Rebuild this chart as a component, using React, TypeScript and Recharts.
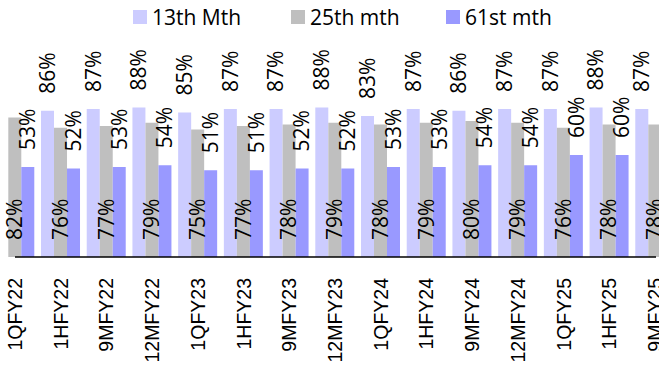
import React from 'react';
import { BarChart, Bar, XAxis, YAxis, Legend, LabelList } from 'recharts';

const categories = ['1QFY22', '1HFY22', '9MFY22', '12MFY22', '1QFY23', '1HFY23', '9MFY23', '12MFY23', '1QFY24', '1HFY24', '9MFY24', '12MFY24', '1QFY25', '1HFY25', '9MFY25'];
// values cut off at the picture edges are left empty
const month13 = [null, 86, 87, 88, 85, 87, 87, 88, 83, 87, 86, 87, 87, 88, 87];
const month25 = [82, 76, 77, 79, 75, 77, 78, 79, 78, 79, 80, 79, 76, 78, 78];
const month61 = [53, 52, 53, 54, 51, 51, 52, 52, 53, 53, 54, 54, 60, 60, null];

const COLORS = { m13: '#CCCCFF', m25: '#BFBFBF', m61: '#9999FF' };
const LABEL_FONT = '"Open Sans", "Liberation Sans", sans-serif';

const data = categories.map((c, i) => ({
    cat: c,
    m13: month13[i],
    m25: month25[i],
    m61: month61[i],
}));

// vertical label sitting above the bar top
const TopLabel = (props: any) => {
    const { x, y, width, value } = props;
    if (value === null || value === undefined) return null;
    const cx = x + width / 2;
    const sy = y - 17;
    return (
        <text x={cx} y={sy} dy="0.35em" transform={`rotate(-90 ${cx} ${sy})`} textAnchor="start"
            fontSize={21} fontFamily={LABEL_FONT} fill="#000">
            {value}%
        </text>
    );
};

// vertical label starting near the base of the bar
const BaseLabel = (props: any) => {
    const { x, y, width, height, value } = props;
    if (value === null || value === undefined) return null;
    const cx = x + width / 2;
    const sy = y + height - 17;
    return (
        <text x={cx} y={sy} dy="0.35em" transform={`rotate(-90 ${cx} ${sy})`} textAnchor="start"
            fontSize={21} fontFamily={LABEL_FONT} fill="#000">
            {value}%
        </text>
    );
};

const CategoryTick = (props: any) => {
    const { x, y, payload } = props;
    const ty = y + 21;
    return (
        <text x={x} y={ty} dy="0.35em" transform={`rotate(-90 ${x} ${ty})`} textAnchor="end"
            fontSize={19.5} fontFamily='"Liberation Sans", Arial, sans-serif' fill="#000">
            {payload.value}
        </text>
    );
};

const legendItems = [
    { key: 'm13', name: '13th Mth', left: 133 },
    { key: 'm25', name: '25th mth', left: 291 },
    { key: 'm61', name: '61st mth', left: 446 },
];

// zero-height box so the legend doesn't eat into the plot area
const TopLegend = () => (
    <div style={{ position: 'relative', height: 0, fontFamily: LABEL_FONT, fontSize: 21, color: '#000', whiteSpace: 'nowrap' }}>
        {legendItems.map((it) => (
            <div key={it.key} style={{ position: 'absolute', left: it.left, top: 3, display: 'flex', alignItems: 'center' }}>
                <div style={{ width: 14, height: 14, background: (COLORS as any)[it.key], marginRight: 5 }} />
                <span>{it.name}</span>
            </div>
        ))}
    </div>
);

export default function App() {
    return (
        <div style={{ position: 'fixed', left: 0, top: 0, width: 659, height: 372, overflow: 'hidden', background: '#fff' }}>
            <BarChart width={659} height={372} data={data} barCategoryGap={3} barGap={0}
                margin={{ top: 87, right: 3, left: 15, bottom: 0 }}>
                <XAxis dataKey="cat" height={115} interval={0} allowDataOverflow
                    padding={{ left: -22.7, right: -22 }} tickLine={false} tickSize={0} tickMargin={0}
                    axisLine={{ stroke: '#000', strokeWidth: 1.5 }} tick={<CategoryTick />} />
                <YAxis hide domain={[0, 100]} />
                <Legend content={<TopLegend />} wrapperStyle={{ left: 0, top: 0, width: 659, height: 0 }} />
                <Bar dataKey="m13" name="13th Mth" fill={COLORS.m13} isAnimationActive={false}>
                    <LabelList dataKey="m13" content={<TopLabel />} />
                </Bar>
                <Bar dataKey="m25" name="25th mth" fill={COLORS.m25} isAnimationActive={false}>
                    <LabelList dataKey="m25" content={<BaseLabel />} />
                </Bar>
                <Bar dataKey="m61" name="61st mth" fill={COLORS.m61} isAnimationActive={false}>
                    <LabelList dataKey="m61" content={<TopLabel />} />
                </Bar>
            </BarChart>
        </div>
    );
}
